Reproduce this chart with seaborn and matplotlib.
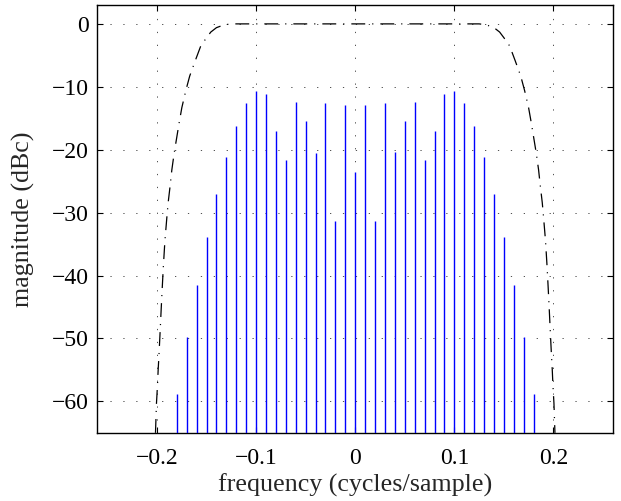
import numpy as np
import pandas as pd
import matplotlib
matplotlib.use("Agg")
import matplotlib.pyplot as plt
import seaborn as sns

# ---- data ----
stem_freq = [-0.18, -0.17, -0.16, -0.15, -0.14, -0.13, -0.12, -0.11, -0.10, -0.09,
             -0.08, -0.07, -0.06, -0.05, -0.04, -0.03, -0.02, -0.01, 0.00,
             0.01, 0.02, 0.03, 0.04, 0.05, 0.06, 0.07, 0.08, 0.09, 0.10,
             0.11, 0.12, 0.13, 0.14, 0.15, 0.16, 0.17, 0.18]
stem_db = [-58.8, -49.8, -41.5, -33.9, -27.0, -21.1, -16.2, -12.6, -10.6, -11.2,
           -17.1, -21.6, -12.4, -15.5, -20.5, -12.6, -31.4, -12.9, -23.6,
           -12.9, -31.4, -12.6, -20.4, -15.5, -12.4, -21.6, -17.1, -11.1, -10.6,
           -12.6, -16.2, -21.1, -27.0, -33.9, -41.5, -49.8, -58.8]

filt_freq = [-0.2015, -0.2005, -0.1995, -0.1988, -0.1980, -0.1970, -0.1958, -0.1947,
             -0.1935, -0.1920, -0.1900, -0.1887, -0.1867, -0.1850, -0.1827, -0.1800,
             -0.1776, -0.1749, -0.1709, -0.1670, -0.1615, -0.1558, -0.1500, -0.1457,
             -0.1400, -0.1323, -0.1250,
             0.1250, 0.1323, 0.1400, 0.1457, 0.1500, 0.1558, 0.1615, 0.1670,
             0.1709, 0.1749, 0.1776, 0.1800, 0.1827, 0.1850, 0.1867, 0.1887,
             0.1900, 0.1920, 0.1935, 0.1947, 0.1958, 0.1970, 0.1980, 0.1988,
             0.1995, 0.2005, 0.2015]
filt_db = [-65.0, -60.3, -57.5, -55.0, -52.7, -49.5, -45.5, -42.0,
           -38.4, -34.5, -30.7, -28.4, -25.7, -23.2, -20.6, -18.0,
           -15.7, -13.3, -10.6, -8.3, -5.9, -3.5, -2.2, -1.3,
           -0.6, -0.15, 0.0,
           0.0, -0.15, -0.6, -1.3, -2.2, -3.5, -5.9, -8.3,
           -10.6, -13.3, -15.7, -18.0, -20.6, -23.2, -25.7, -28.4,
           -30.7, -34.5, -38.4, -42.0, -45.5, -49.5, -52.7, -55.0,
           -57.5, -60.3, -65.0]

x_ticks = [-0.2, -0.1, 0.0, 0.1, 0.2]
x_ticklabels = ["\u22120.2", "\u22120.1", "0", "0.1", "0.2"]
y_ticks = [0, -10, -20, -30, -40, -50, -60]
y_ticklabels = ["0", "\u221210", "\u221220", "\u221230", "\u221240", "\u221250", "\u221260"]
x_label = "frequency (cycles/sample)"
y_label = "magnitude (dBc)"
x_lim = (-0.26, 0.26)
y_lim = (-65, 3)

# ---- style ----
sns.set_theme(style="white")
plt.rcParams["font.family"] = ["Liberation Serif", "DejaVu Serif"]
plt.rcParams["font.size"] = 17

fig = plt.figure(figsize=(6.21, 5.01), dpi=100)
ax = fig.add_axes([0.157, 0.136, 0.830, 0.854])

# stems
ax.vlines(stem_freq, y_lim[0], stem_db, colors="#0000ff", linewidth=1.0, zorder=3)

# filter response
df = pd.DataFrame({"freq": filt_freq, "db": filt_db})
sns.lineplot(data=df, x="freq", y="db", sort=False, estimator=None, ax=ax,
             color="black", linewidth=0.9, zorder=4)
ax.lines[-1].set_linestyle((0, (11.1, 5.6, 0.9, 5.6)))

ax.set_xlim(*x_lim)
ax.set_ylim(*y_lim)
ax.set_xticks(x_ticks)
ax.set_xticklabels(x_ticklabels)
ax.set_yticks(y_ticks)
ax.set_yticklabels(y_ticklabels)
ax.set_xlabel(x_label, fontsize=18.7, labelpad=3)
ax.set_ylabel(y_label, fontsize=18.7, labelpad=12)

ax.grid(True, color="0.2", linestyle=(0, (1.5, 14)), linewidth=0.6)
ax.set_axisbelow(True)
ax.tick_params(direction="in", length=4, width=0.8, top=True, right=True,
               bottom=True, left=True, labelsize=17, colors="black")
ax.tick_params(axis="x", pad=11)
ax.tick_params(axis="y", pad=6)
for s in ax.spines.values():
    s.set_color("black")
    s.set_linewidth(1.0)
    s.set_visible(True)

fig.savefig("out.png", dpi=100)
